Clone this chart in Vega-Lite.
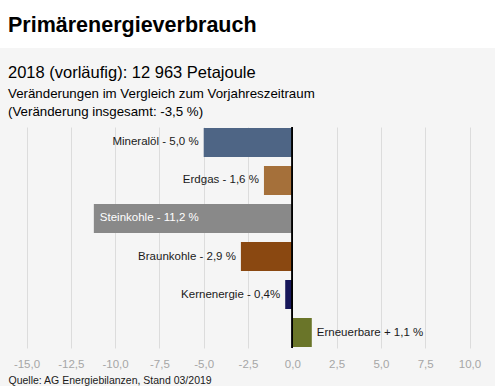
{
  "$schema": "https://vega.github.io/schema/vega-lite/v6.json",
  "padding": 0,
  "background": "#f5f5f5",
  "spacing": 16,
  "config": {"font": "Liberation Sans", "view": {"stroke": null}},
  "vconcat": [
    {
      "width": 495,
      "height": 48,
      "view": {"fill": "#ffffff", "stroke": null},
      "data": {"values": [{"t": "Primärenergieverbrauch"}]},
      "mark": {"type": "text", "align": "left", "baseline": "alphabetic", "dx": -239.5, "dy": 7.5, "fontSize": 21.5, "fontWeight": "bold", "color": "#000000"},
      "encoding": {"text": {"field": "t"}}
    },
    {
      "width": 469.5,
      "height": 221,
      "title": {
        "text": "2018 (vorläufig): 12 963 Petajoule",
        "subtitle": ["Veränderungen im Vergleich zum Vorjahreszeitraum", "(Veränderung insgesamt: -3,5 %)"],
        "anchor": "start",
        "frame": "group",
        "dx": 8,
        "fontSize": 16.5,
        "fontWeight": "normal",
        "color": "#000000",
        "subtitleFontSize": 13.3,
        "subtitleColor": "#000000",
        "subtitlePadding": 6,
        "subtitleLineHeight": 18,
        "offset": 8
      },
      "data": {"values": [
        {"k": "Mineralöl", "v": -5.0, "label": "Mineralöl - 5,0 %"},
        {"k": "Erdgas", "v": -1.6, "label": "Erdgas - 1,6 %"},
        {"k": "Steinkohle", "v": -11.2, "label": "Steinkohle - 11,2 %"},
        {"k": "Braunkohle", "v": -2.9, "label": "Braunkohle - 2,9 %"},
        {"k": "Kernenergie", "v": -0.4, "label": "Kernenergie - 0,4%"},
        {"k": "Erneuerbare", "v": 1.1, "label": "Erneuerbare + 1,1 %"}
      ]},
      "layer": [
        {
          "mark": {"type": "bar"},
          "encoding": {
            "y": {"field": "k", "type": "nominal", "sort": null, "scale": {"paddingInner": 0.237, "paddingOuter": 0.026}, "axis": null},
            "x": {"field": "v", "type": "quantitative", "scale": {"domain": [-16.4955, 10], "nice": false, "zero": false},
              "axis": {
                "values": [-15, -12.5, -10, -7.5, -5, -2.5, 0, 2.5, 5, 7.5, 10],
                "labelExpr": "replace(replace(format(datum.value, '.1f'), '.', ','), '\u2212', '-')",
                "ticks": false, "domain": false, "grid": true, "gridColor": "#dcdcdc",
                "labelColor": "#a6a6a6", "labelFontSize": 11.5, "labelPadding": 10, "labelFlush": false,
                "title": "Quelle: AG Energiebilanzen, Stand 03/2019",
                "titleX": 8, "titleY": 35, "titleAlign": "left", "titleBaseline": "alphabetic",
                "titleFontSize": 10.5, "titleFontWeight": "normal", "titleColor": "#1a1a1a"
              }},
            "color": {"field": "k", "type": "nominal", "legend": null,
              "scale": {"domain": ["Mineralöl", "Erdgas", "Steinkohle", "Braunkohle", "Kernenergie", "Erneuerbare"],
                "range": ["#4e6585", "#a5703a", "#898989", "#8a4811", "#17175a", "#6a7529"]}}
          }
        },
        {
          "mark": {"type": "rule", "color": "#000000", "strokeWidth": 1.2},
          "encoding": {"x": {"datum": 0}}
        },
        {
          "transform": [{"filter": "datum.v < 0 && datum.v > -10"}],
          "mark": {"type": "text", "align": "right", "baseline": "middle", "dx": -5, "fontSize": 11.5, "color": "#1a1a1a"},
          "encoding": {
            "y": {"field": "k", "type": "nominal", "sort": null},
            "x": {"field": "v", "type": "quantitative"},
            "text": {"field": "label"}
          }
        },
        {
          "transform": [{"filter": "datum.v <= -10"}],
          "mark": {"type": "text", "align": "left", "baseline": "middle", "dx": 6, "fontSize": 11.5, "color": "#ffffff"},
          "encoding": {
            "y": {"field": "k", "type": "nominal", "sort": null},
            "x": {"field": "v", "type": "quantitative"},
            "text": {"field": "label"}
          }
        },
        {
          "transform": [{"filter": "datum.v > 0"}],
          "mark": {"type": "text", "align": "left", "baseline": "middle", "dx": 5, "fontSize": 11.5, "color": "#1a1a1a"},
          "encoding": {
            "y": {"field": "k", "type": "nominal", "sort": null},
            "x": {"field": "v", "type": "quantitative"},
            "text": {"field": "label"}
          }
        }
      ]
    }
  ]
}
